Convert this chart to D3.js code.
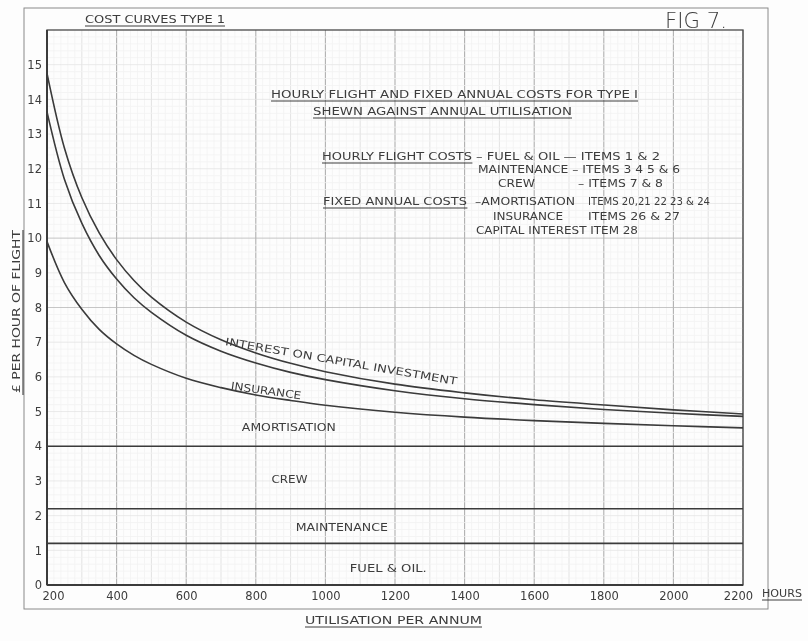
<!DOCTYPE html>
<html>
<head>
<meta charset="utf-8">
<script src="https://cdn.jsdelivr.net/npm/d3@7"></script>
<style>
  body { margin: 0; background: #fdfdfd; }
  svg { display: block; }
  text { font-family: "DejaVu Sans", sans-serif; fill: #3c3c3c; }
</style>
</head>
<body>
<svg id="chart"></svg>
<script>
// hours flown per annum, read at these points
const utilisation = [200, 250, 300, 350, 400, 450, 500, 600, 700, 800, 900, 1000, 1200, 1400, 1600, 1800, 2000, 2200];
// cumulative £ per hour at the top of each band
const amortisationTop = [9.9, 8.72, 7.95, 7.37, 6.95, 6.62, 6.36, 5.96, 5.69, 5.48, 5.32, 5.18, 4.98, 4.84, 4.74, 4.66, 4.59, 4.53];
const insuranceTop = [13.64, 11.7, 10.43, 9.5, 8.82, 8.28, 7.86, 7.2, 6.74, 6.4, 6.13, 5.92, 5.6, 5.37, 5.2, 5.06, 4.95, 4.86];
const interestTop = [14.75, 12.6, 11.17, 10.15, 9.38, 8.78, 8.3, 7.58, 7.07, 6.69, 6.39, 6.15, 5.79, 5.54, 5.34, 5.19, 5.05, 4.93];
// hourly flight costs are flat
const flatNames = ['FUEL & OIL.', 'MAINTENANCE', 'CREW'];
const flatTops = [1.2, 2.2, 4.0];
const xTicks = [200, 400, 600, 800, 1000, 1200, 1400, 1600, 1800, 2000, 2200];
const yTicks = d3.range(0, 16);

const width = 808, height = 641;
const svg = d3.select('#chart').attr('width', width).attr('height', height);

const defs = svg.append('defs');
defs.append('filter').attr('id', 'soft')
  .append('feGaussianBlur').attr('stdDeviation', 0.45);

const root = svg.append('g').attr('filter', 'url(#soft)');

const x = d3.scaleLinear().domain([200, 2200]).range([47, 743]);
const y = d3.scaleLinear().domain([0, 16]).range([585, 30]);

// graph paper
const grid = root.append('g');
grid.selectAll('.vmin').data(d3.range(200, 2201, 20)).enter().append('line')
  .attr('x1', d => x(d)).attr('x2', d => x(d)).attr('y1', y(16)).attr('y2', y(0))
  .attr('stroke', d => d % 200 === 0 ? '#b0b0b0' : (d % 100 === 0 ? '#dcdcdc' : '#f3f3f3'))
  .attr('stroke-width', d => d % 200 === 0 ? 1.1 : 0.8);
grid.selectAll('.hmin').data(d3.range(0, 80).map(i => i / 5)).enter().append('line')
  .attr('x1', x(200)).attr('x2', x(2200)).attr('y1', d => y(d)).attr('y2', d => y(d))
  .attr('stroke', d => (d === 8 || d === 10) ? '#b8b8b8' : (Math.abs(d % 1) < 1e-6 ? '#e4e4e4' : '#f3f3f3'))
  .attr('stroke-width', 0.8);

// outer drawing frame
root.append('rect').attr('x', 24).attr('y', 8).attr('width', 744).attr('height', 601)
  .attr('fill', 'none').attr('stroke', '#8a8a8a').attr('stroke-width', 1);

// plot frame
root.append('rect').attr('x', x(200)).attr('y', y(16)).attr('width', x(2200) - x(200)).attr('height', y(0) - y(16))
  .attr('fill', 'none').attr('stroke', '#4a4a4a').attr('stroke-width', 1.3);
root.append('line').attr('x1', x(200)).attr('x2', x(200)).attr('y1', y(16)).attr('y2', y(0))
  .attr('stroke', '#3a3a3a').attr('stroke-width', 2);
root.append('line').attr('x1', x(200)).attr('x2', x(2200)).attr('y1', y(0)).attr('y2', y(0))
  .attr('stroke', '#3a3a3a').attr('stroke-width', 2);

// axes
const yAxis = root.append('g').attr('transform', `translate(${x(200) - 2},0)`)
  .call(d3.axisLeft(y).tickValues(yTicks).tickSize(0).tickFormat(d3.format('d')));
yAxis.select('.domain').remove();
yAxis.selectAll('text').attr('font-size', 11.5).attr('fill', '#3c3c3c').style('font-family', 'DejaVu Sans');

const xAxis = root.append('g').attr('transform', `translate(0,${y(0) + 4})`)
  .call(d3.axisBottom(x).tickValues(xTicks).tickSize(0).tickFormat(d3.format('d')));
xAxis.select('.domain').remove();
xAxis.selectAll('text').attr('font-size', 11.5).attr('fill', '#3c3c3c').style('font-family', 'DejaVu Sans')
  .attr('dx', (d, i) => i === 0 ? 6 : (d === 2200 ? -5 : 0));

// flat lines
root.selectAll('.flat').data(flatTops).enter().append('line')
  .attr('x1', x(200)).attr('x2', x(2200)).attr('y1', d => y(d)).attr('y2', d => y(d))
  .attr('stroke', '#3a3a3a').attr('stroke-width', 1.6);

// falling curves
const line = d3.line().x((d, i) => x(utilisation[i])).y(d => y(d)).curve(d3.curveCatmullRom.alpha(0.5));
[amortisationTop, insuranceTop, interestTop].forEach(series => {
  root.append('path').attr('d', line(series))
    .attr('fill', 'none').attr('stroke', '#3a3a3a').attr('stroke-width', 1.6);
});

// helper for underlined text
function label(txt, px, py, opts = {}) {
  const t = root.append('text').attr('x', px).attr('y', py).text(txt)
    .attr('font-size', opts.size || 10.5);
  if (opts.len) t.attr('textLength', opts.len).attr('lengthAdjust', 'spacingAndGlyphs');
  if (opts.anchor) t.attr('text-anchor', opts.anchor);
  if (opts.underline) {
    const b = t.node().getBBox();
    root.append('line').attr('x1', b.x).attr('x2', b.x + b.width)
      .attr('y1', py + 3).attr('y2', py + 3).attr('stroke', '#3c3c3c').attr('stroke-width', 1.1);
  }
  return t;
}

label('COST CURVES TYPE 1', 85, 23, { len: 140, underline: true });
label('FIG 7.', 665, 28, { size: 21, len: 62 }).style('font-weight', 300);

label('HOURLY FLIGHT AND FIXED ANNUAL COSTS FOR TYPE I', 271, 98, { len: 367, underline: true });
label('SHEWN AGAINST ANNUAL UTILISATION', 313, 115, { len: 259, underline: true });

label('HOURLY FLIGHT COSTS', 322, 160, { len: 150, underline: true });
label('– FUEL & OIL — ITEMS 1 & 2', 476, 160, { len: 184 });
label('MAINTENANCE – ITEMS 3 4 5 & 6', 478, 173, { len: 202 });
label('CREW', 498, 187, { len: 37 });
label('– ITEMS 7 & 8', 578, 187, { len: 85 });
label('FIXED ANNUAL COSTS', 323, 205, { len: 144, underline: true });
label('–AMORTISATION', 475, 205, { len: 100 });
label('ITEMS 20,21 22 23 & 24', 588, 205, { len: 122 });
label('INSURANCE', 493, 220, { len: 70 });
label('ITEMS 26 & 27', 588, 220, { len: 92 });
label('CAPITAL INTEREST ITEM 28', 476, 234, { len: 162 });

// curve labels
const bandLabel = (txt, u, v, angle, len) => {
  root.append('text')
    .attr('transform', `translate(${x(u)},${y(v)}) rotate(${angle})`)
    .attr('font-size', 10.5).attr('textLength', len).attr('lengthAdjust', 'spacingAndGlyphs')
    .text(txt);
};
bandLabel('INTEREST ON CAPITAL INVESTMENT', 711, 6.92, 9.8, 235);
bandLabel('INSURANCE', 727, 5.64, 8, 71);

root.append('text').attr('x', x(760)).attr('y', y(4.45)).attr('font-size', 10.5)
  .attr('textLength', 94).attr('lengthAdjust', 'spacingAndGlyphs').text('AMORTISATION');
const flatLabelPos = [[x(1070), y(0.37)], [x(915), y(1.55)], [x(845), y(2.95)]];
flatNames.forEach((n, i) => {
  const w = [77, 92, 36][i];
  root.append('text').attr('x', flatLabelPos[i][0]).attr('y', flatLabelPos[i][1]).attr('font-size', 10.5)
    .attr('textLength', w).attr('lengthAdjust', 'spacingAndGlyphs').text(n);
});

// axis titles
root.append('text').attr('transform', 'translate(20,393) rotate(-90)')
  .attr('font-size', 11).attr('textLength', 163).attr('lengthAdjust', 'spacingAndGlyphs')
  .text('£ PER HOUR OF FLIGHT');
root.append('line').attr('x1', 23).attr('x2', 23).attr('y1', 230).attr('y2', 395)
  .attr('stroke', '#3c3c3c').attr('stroke-width', 1.1);

label('HOURS', 762, 597, { size: 11, len: 40, underline: true });
label('UTILISATION  PER  ANNUM', 305, 624, { size: 11, len: 177, underline: true });
</script>
</body>
</html>
